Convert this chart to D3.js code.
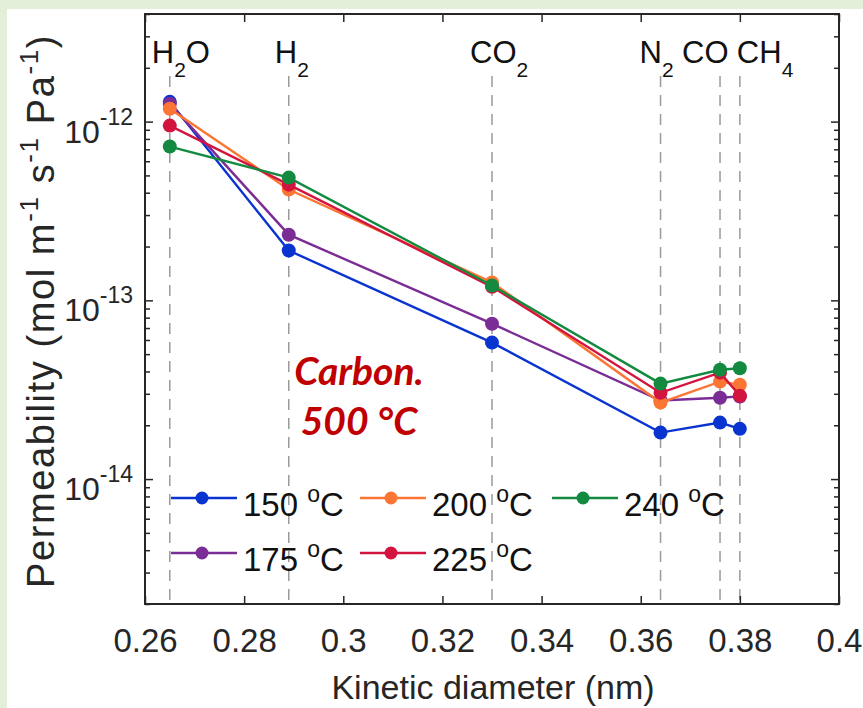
<!DOCTYPE html>
<html>
<head>
<meta charset="utf-8">
<script src="https://cdn.jsdelivr.net/npm/d3@7"></script>
<style>
  html, body { margin: 0; padding: 0; background: #e3efd9; }
  svg { display: block; }
  text { font-family: "Liberation Sans", Arial, Helvetica, sans-serif; fill: #262626; }
</style>
</head>
<body>
<div id="chart"></div>
<script>
// gases and their kinetic diameters (nm)
const gasMain = ['H', 'H', 'CO', 'N', 'CO', 'CH'];
const gasSub = ['2', '2', '2', '2', '', '4'];
const gasTail = ['O', '', '', '', '', ''];
const diameters = [0.265, 0.289, 0.33, 0.364, 0.376, 0.38];

// permeability (mol m-1 s-1 Pa-1), same order as diameters
const temps = [150, 175, 200, 225, 240];
const p150 = [1.29e-12, 1.90e-13, 5.8e-14, 1.82e-14, 2.07e-14, 1.91e-14];
const p175 = [1.26e-12, 2.33e-13, 7.4e-14, 2.75e-14, 2.85e-14, 2.9e-14];
const p200 = [1.18e-12, 4.17e-13, 1.26e-13, 2.68e-14, 3.51e-14, 3.37e-14];
const p225 = [9.5e-13, 4.44e-13, 1.19e-13, 3.04e-14, 3.94e-14, 2.93e-14];
const p240 = [7.25e-13, 4.86e-13, 1.21e-13, 3.42e-14, 4.09e-14, 4.17e-14];
const seriesValues = [p150, p175, p200, p225, p240];
const colors = ['#0a34d0', '#7b2d96', '#fb7634', '#d3143e', '#138a3f'];

const xTicks = [0.26, 0.28, 0.3, 0.32, 0.34, 0.36, 0.38, 0.4];
const yDecades = [-14, -13, -12];

const W = 863, H = 708;
const m = { left: 145, right: 839, top: 14, bottom: 604 };

const svg = d3.select('#chart').append('svg').attr('width', W).attr('height', H);

// white panel on green frame
svg.append('rect').attr('x', 7).attr('y', 9).attr('width', W - 7).attr('height', H - 9).attr('fill', '#fff');

const x = d3.scaleLinear().domain([0.26, 0.4]).range([m.left, m.right]);
const y = d3.scaleLog().domain([2e-15, 4e-12]).range([m.bottom, m.top]);

// dashed guide lines for each gas
const labelShift = [-18, -14, -22, -21, -38, -3];
svg.append('g').selectAll('line').data(diameters).join('line')
  .attr('x1', d => x(d)).attr('x2', d => x(d))
  .attr('y1', 76).attr('y2', m.bottom)
  .attr('stroke', '#9a9a9a').attr('stroke-width', 1.5)
  .attr('stroke-dasharray', '11,8');

// gas labels
const gl = svg.append('g').selectAll('text').data(diameters).join('text')
  .attr('x', (d, i) => x(d) + labelShift[i]).attr('y', 63)
  .attr('font-size', 31).style('fill', '#111');
gl.each(function(d, i) {
  const t = d3.select(this);
  t.append('tspan').text(gasMain[i]);
  if (gasSub[i]) t.append('tspan').attr('font-size', 21).attr('dy', 14).text(gasSub[i]);
  if (gasTail[i]) t.append('tspan').attr('dy', -14).text(gasTail[i]);
});

// axes (MATLAB style: ticks inward, box on)
const axisColor = '#262626';
const minorVals = [];
for (let e = -15; e <= -12; e++) {
  for (let k = 2; k <= 9; k++) {
    const v = k * Math.pow(10, e);
    if (v >= 2e-15 && v <= 4e-12) minorVals.push(v);
  }
}
const majorVals = yDecades.map(e => Math.pow(10, e));

function styleAxis(g) {
  g.select('.domain').remove();
  g.selectAll('.tick line').attr('stroke', axisColor).attr('stroke-width', 1.5);
}

svg.append('g').attr('transform', `translate(0,${m.bottom})`)
  .call(d3.axisBottom(x).tickValues(xTicks).tickSize(-8).tickPadding(25).tickFormat(d => String(+d.toFixed(2))))
  .call(styleAxis)
  .call(g => g.selectAll('text').attr('font-size', 33).attr('fill', axisColor));
svg.append('g').attr('transform', `translate(0,${m.top})`)
  .call(d3.axisTop(x).tickValues(xTicks).tickSize(-8).tickFormat(''))
  .call(styleAxis);

svg.append('g').attr('transform', `translate(${m.left},0)`)
  .call(d3.axisLeft(y).tickValues(majorVals).tickSize(-8).tickFormat(''))
  .call(styleAxis);
svg.append('g').attr('transform', `translate(${m.left},0)`)
  .call(d3.axisLeft(y).tickValues(minorVals).tickSize(-5).tickFormat(''))
  .call(styleAxis);
svg.append('g').attr('transform', `translate(${m.right},0)`)
  .call(d3.axisRight(y).tickValues(majorVals).tickSize(-8).tickFormat(''))
  .call(styleAxis);
svg.append('g').attr('transform', `translate(${m.right},0)`)
  .call(d3.axisRight(y).tickValues(minorVals).tickSize(-5).tickFormat(''))
  .call(styleAxis);

// y tick labels 10^n
const yl = svg.append('g').selectAll('text').data(yDecades).join('text')
  .attr('x', m.left - 12).attr('y', d => y(Math.pow(10, d)) + 21)
  .attr('text-anchor', 'end').attr('font-size', 32).attr('fill', axisColor);
yl.append('tspan').text('10');
yl.append('tspan').attr('font-size', 23).attr('dy', -18).text(d => String(d));

// box
svg.append('rect')
  .attr('x', m.left).attr('y', m.top)
  .attr('width', m.right - m.left).attr('height', m.bottom - m.top)
  .attr('fill', 'none').attr('stroke', axisColor).attr('stroke-width', 2);

// series
const line = d3.line().x((d, i) => x(diameters[i])).y(d => y(d));
const sg = svg.append('g').selectAll('g').data(seriesValues).join('g');
sg.append('path')
  .attr('d', d => line(d))
  .attr('fill', 'none')
  .attr('stroke', (d, i) => colors[i]).attr('stroke-width', 2.4);
sg.each(function(vals, si) {
  d3.select(this).selectAll('circle').data(vals).join('circle')
    .attr('cx', (d, i) => x(diameters[i])).attr('cy', d => y(d))
    .attr('r', 7).attr('fill', colors[si]);
});

// annotation
const ann = svg.append('g');
['Carbon.', '500 °C'].forEach((s, i) => {
  ann.append('text').attr('x', 359).attr('y', 385 + i * 50).attr('text-anchor', 'middle')
    .attr('font-size', 39).attr('font-weight', 700).attr('font-style', 'italic')
    .style('fill', '#c00000').style('font-family', 'Lato, "Open Sans", sans-serif').text(s);
});

// legend: 3 columns, filled column-wise like MATLAB
const legCol = [171, 360, 552];
const legRow = [498, 553];
const leg = svg.append('g').selectAll('g').data(temps).join('g')
  .attr('transform', (d, i) => `translate(${legCol[Math.floor(i / 2)]},${legRow[i % 2]})`);
leg.append('line').attr('x1', 0).attr('x2', 66).attr('y1', 0).attr('y2', 0)
  .attr('stroke', (d, i) => colors[i]).attr('stroke-width', 2.4);
leg.append('circle').attr('cx', 31).attr('cy', 0).attr('r', 6.5).attr('fill', (d, i) => colors[i]);
const lt = leg.append('text').attr('x', 72).attr('y', 18).attr('font-size', 33).style('fill', '#111');
lt.append('tspan').text(d => d + ' ');
lt.append('tspan').attr('font-size', 23).attr('dy', -14).text('o');
lt.append('tspan').attr('dy', 14).text('C');

// axis titles
svg.append('text').attr('x', 493).attr('y', 699)
  .attr('text-anchor', 'middle').attr('font-size', 34).attr('fill', axisColor)
  .text('Kinetic diameter (nm)');

const yt = svg.append('text').attr('transform', 'translate(54,311) rotate(-90)')
  .attr('text-anchor', 'middle').attr('font-size', 38).attr('letter-spacing', 1.6).attr('fill', axisColor);
const yParts = [['Permeability (mol m', false], ['-1', true], [' s', false], ['-1', true], [' Pa', false], ['-1', true], [')', false]];
let up = false;
yParts.forEach(([s, sup]) => {
  const ts = yt.append('tspan').text(s);
  if (sup) { ts.attr('font-size', 26).attr('dy', -16); up = true; }
  else if (up) { ts.attr('dy', 16); up = false; }
});
</script>
</body>
</html>
